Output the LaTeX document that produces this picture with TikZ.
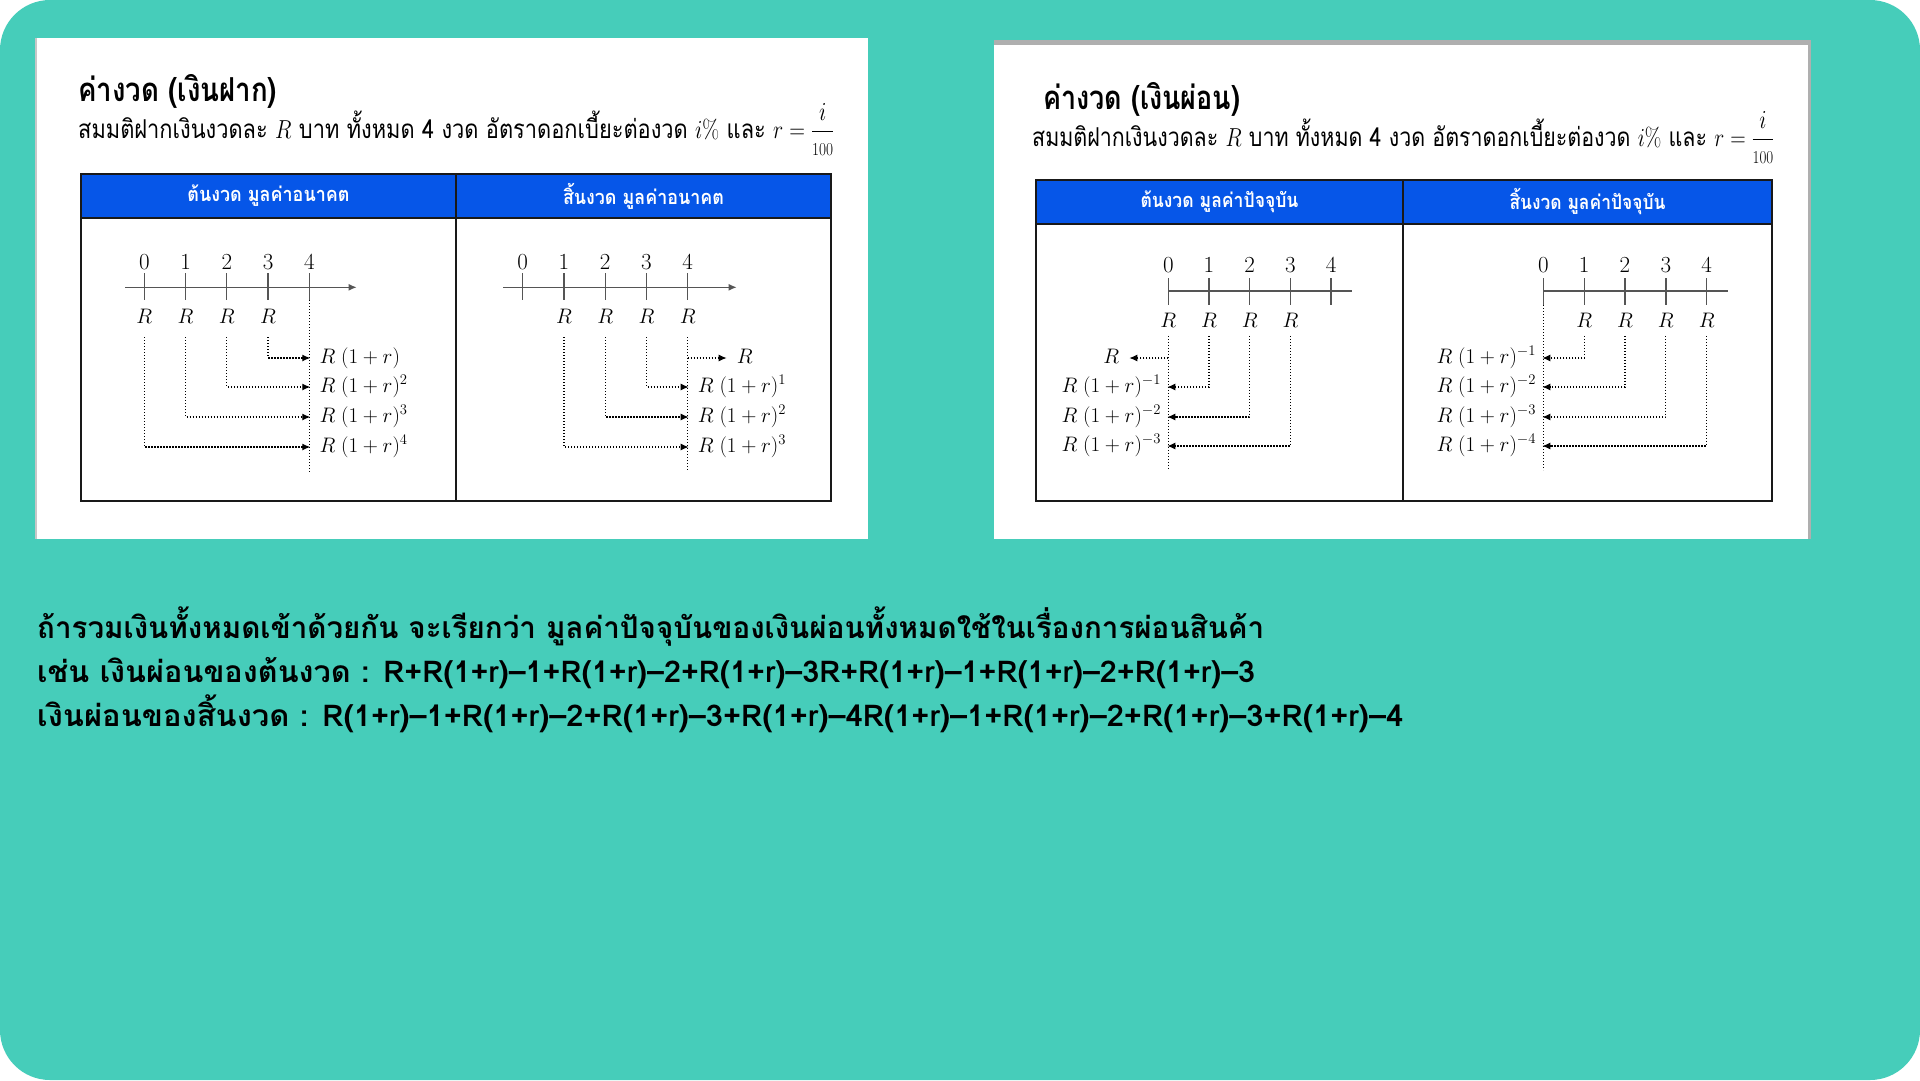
\RequirePackage{fix-cm}
\documentclass[tikz,border=0pt]{standalone}
\usepackage{amsmath}
\usepackage{graphicx}
\usepackage{fontspec}
\usetikzlibrary{arrows.meta}
\newfontfamily\thai[Script=Thai]{Loma}
% scale a box horizontally to a given width, height unchanged
\newcommand{\fitw}[2]{\resizebox{#1}{\height}{#2}}

\definecolor{bgteal}{RGB}{70,205,186}
\definecolor{hdrblue}{RGB}{6,86,232}
\definecolor{axisgray}{RGB}{85,85,85}
\definecolor{panelgray}{RGB}{175,175,175}

\tikzset{
  txt/.style={inner sep=0pt},
  hdr/.style={inner sep=0pt, text=white, font=\thai\bfseries\fontsize{20}{24}\selectfont},
  tbl/.style={draw=black!90, line width=2pt},
  axisline/.style={draw=axisgray, line width=1.3pt},
  tickline/.style={draw=axisgray, line width=1.3pt},
  tip/.style={-{Latex[length=8pt,width=7pt]}},
  dotline/.style={draw=black, line width=1.2pt, dash pattern=on 1.4pt off 1.6pt},
  dotarrow/.style={dotline, tip},
  num/.style={inner sep=0pt, font=\fontsize{23}{27}\selectfont},
  rlab/.style={inner xsep=1pt, inner ysep=13pt, text height=14.3pt, text depth=0pt,
               font=\fontsize{21}{25}\selectfont},
  res/.style={inner ysep=0pt, text height=15.75pt, text depth=5.25pt,
              font=\fontsize{21}{25}\selectfont},
  resL/.style={res, anchor=west, inner xsep=9pt},
  resR/.style={res, anchor=east, inner xsep=6pt},
}

\begin{document}
\begin{tikzpicture}[x=1pt,y=-1pt]
\useasboundingbox (0,0) rectangle (1920,1080);
\fill[white] (0,0) rectangle (1920,1080);
\fill[bgteal, rounded corners=50pt] (0,0) rectangle (1920,1080);

% ---------------- left card: deposits ----------------
\fill[panelgray!70] (35,38) rectangle (868,539);
\fill[white] (37,38) rectangle (868,539);

\node[txt, anchor=west] (titleL) at (78,91)
  {\fitw{199pt}{\thai\bfseries\fontsize{33}{38}\selectfont ค่างวด (เงินฝาก)}};
\node[txt, anchor=base west] (subL) at (78,138)
  {\fitw{756pt}{\thai\fontsize{26}{30}\selectfont สมมติฝากเงินงวดละ $R$ บาท ทั้งหมด 4 งวด อัตราดอกเบี้ยะต่องวด $i\%$ และ $r = \dfrac{i}{\scriptstyle 100}$}};

\fill[hdrblue] (81,174) rectangle (831,218);
\draw[tbl] (81,174) rectangle (831,501);
\draw[tbl] (81,218) -- (831,218);
\draw[tbl] (456,174) -- (456,501);
\node[hdr] (hA) at (268.5,196) {\fitw{162pt}{ต้นงวด มูลค่าอนาคต}};
\node[hdr] (hB) at (643.5,196) {\fitw{161pt}{สิ้นงวด มูลค่าอนาคต}};

% future value, payments at the start of each period
\draw[axisline, tip] (125,287.3) -- (356.7,287.3);
\foreach \k/\xx in {0/144.3,1/185.55,2/226.8,3/268.05,4/309.3}{
  \node[num] (aN\k) at (\xx,262) {$\k$};
  \draw[tickline] (\xx,273.3) -- (\xx,300);
}
\foreach \k/\xx in {0/144.3,1/185.55,2/226.8,3/268.05}{
  \node[rlab] (aR\k) at (\xx,316.7) {$R$};
}
\coordinate (aTop) at (309.3,300);
\coordinate (aBot) at (309.3,471.7);
\draw[dotline] (aTop) -- (aBot);
\node[resL] (aF1) at (310.3,358) {$R\;(1+r)$};
\node[resL] (aF2) at (310.3,387) {$R\;(1+r)^2$};
\node[resL] (aF3) at (310.3,417) {$R\;(1+r)^3$};
\node[resL] (aF4) at (310.3,447) {$R\;(1+r)^4$};
\draw[dotarrow] (aR3.south) |- (aF1.west);
\draw[dotarrow] (aR2.south) |- (aF2.west);
\draw[dotarrow] (aR1.south) |- (aF3.west);
\draw[dotarrow] (aR0.south) |- (aF4.west);

% future value, payments at the end of each period
\draw[axisline, tip] (503.3,287.3) -- (736.7,287.3);
\foreach \k/\xx in {0/522.7,1/563.95,2/605.2,3/646.45,4/687.7}{
  \node[num] (bN\k) at (\xx,262) {$\k$};
  \draw[tickline] (\xx,273.3) -- (\xx,300);
}
\foreach \k/\xx in {1/563.95,2/605.2,3/646.45,4/687.7}{
  \node[rlab] (bR\k) at (\xx,316.7) {$R$};
}
\coordinate (bBot) at (687.7,471.7);
\coordinate (bMid) at (687.7,358);
\draw[dotline] (bR4.south) -- (bBot);
\node[res, anchor=west, inner xsep=10pt] (bF0) at (726.7,358) {$R$};
\node[resL] (bF1) at (688.7,387) {$R\;(1+r)^1$};
\node[resL] (bF2) at (688.7,417) {$R\;(1+r)^2$};
\node[resL] (bF3) at (688.7,447) {$R\;(1+r)^3$};
\draw[dotarrow] (bMid) -- (bF0.west);
\draw[dotarrow] (bR3.south) |- (bF1.west);
\draw[dotarrow] (bR2.south) |- (bF2.west);
\draw[dotarrow] (bR1.south) |- (bF3.west);

% ---------------- right card: instalments ----------------
\fill[panelgray] (994,40) rectangle (1811,539);
\fill[white] (994,45) rectangle (1808,539);

\node[txt, anchor=west] (titleR) at (1043,99)
  {\fitw{197pt}{\thai\bfseries\fontsize{33}{38}\selectfont ค่างวด (เงินผ่อน)}};
\node[txt, anchor=base west] (subR) at (1032,146)
  {\fitw{742pt}{\thai\fontsize{26}{30}\selectfont สมมติฝากเงินงวดละ $R$ บาท ทั้งหมด 4 งวด อัตราดอกเบี้ยะต่องวด $i\%$ และ $r = \dfrac{i}{\scriptstyle 100}$}};

\fill[hdrblue] (1036,180) rectangle (1772,224);
\draw[tbl] (1036,180) rectangle (1772,501);
\draw[tbl] (1036,224) -- (1772,224);
\draw[tbl] (1403,180) -- (1403,501);
\node[hdr] (hC) at (1219.5,202) {\fitw{158pt}{ต้นงวด มูลค่าปัจจุบัน}};
\node[hdr] (hD) at (1587.5,202) {\fitw{156pt}{สิ้นงวด มูลค่าปัจจุบัน}};

% present value, payments at the start of each period
\draw[axisline] (1168.3,291) -- (1351.7,291);
\foreach \k/\xx in {0/1168.3,1/1209,2/1249.7,3/1290.4,4/1331.1}{
  \node[num] (cN\k) at (\xx,265) {$\k$};
  \draw[tickline] (\xx,278.3) -- (\xx,305);
}
\foreach \k/\xx in {0/1168.3,1/1209,2/1249.7,3/1290.4}{
  \node[rlab, inner ysep=8.5pt] (cR\k) at (\xx,320) {$R$};
}
\coordinate (cBot) at (1168.3,470);
\coordinate (cMid) at (1168.3,358);
\draw[dotline] (cR0.south) -- (cBot);
\node[res, anchor=east, inner xsep=10pt] (cP0) at (1129.3,358) {$R$};
\node[resR] (cP1) at (1167.3,387) {$R\;(1+r)^{-1}$};
\node[resR] (cP2) at (1167.3,417) {$R\;(1+r)^{-2}$};
\node[resR] (cP3) at (1167.3,446) {$R\;(1+r)^{-3}$};
\draw[dotarrow] (cMid) -- (cP0.east);
\draw[dotarrow] (cR1.south) |- (cP1.east);
\draw[dotarrow] (cR2.south) |- (cP2.east);
\draw[dotarrow] (cR3.south) |- (cP3.east);

% present value, payments at the end of each period
\draw[axisline] (1543.3,291) -- (1728.3,291);
\foreach \k/\xx in {0/1543.3,1/1584.15,2/1625,3/1665.85,4/1706.7}{
  \node[num] (dN\k) at (\xx,265) {$\k$};
  \draw[tickline] (\xx,278.3) -- (\xx,305);
}
\foreach \k/\xx in {1/1584.15,2/1625,3/1665.85,4/1706.7}{
  \node[rlab, inner ysep=8.5pt] (dR\k) at (\xx,320) {$R$};
}
\coordinate (dTop) at (1543.3,305);
\coordinate (dBot) at (1543.3,470);
\draw[dotline] (dTop) -- (dBot);
\node[resR] (dP1) at (1542.3,358) {$R\;(1+r)^{-1}$};
\node[resR] (dP2) at (1542.3,387) {$R\;(1+r)^{-2}$};
\node[resR] (dP3) at (1542.3,417) {$R\;(1+r)^{-3}$};
\node[resR] (dP4) at (1542.3,446) {$R\;(1+r)^{-4}$};
\draw[dotarrow] (dR1.south) |- (dP1.east);
\draw[dotarrow] (dR2.south) |- (dP2.east);
\draw[dotarrow] (dR3.south) |- (dP3.east);
\draw[dotarrow] (dR4.south) |- (dP4.east);

% ---------------- notes below the cards ----------------
\node[txt, anchor=base west] (note1) at (37,638)
  {\fitw{1227pt}{\thai\bfseries\fontsize{30}{34}\selectfont ถ้ารวมเงินทั้งหมดเข้าด้วยกัน จะเรียกว่า มูลค่าปัจจุบันของเงินผ่อนทั้งหมดใช้ในเรื่องการผ่อนสินค้า}};
\node[txt, anchor=base west] (note2) at (37,682)
  {\fitw{1218pt}{\thai\bfseries\fontsize{30}{34}\selectfont เช่น เงินผ่อนของต้นงวด : R+R(1+r)–1+R(1+r)–2+R(1+r)–3R+R(1+r)–1+R(1+r)–2+R(1+r)–3}};
\node[txt, anchor=base west] (note3) at (37,726)
  {\fitw{1366pt}{\thai\bfseries\fontsize{30}{34}\selectfont เงินผ่อนของสิ้นงวด : R(1+r)–1+R(1+r)–2+R(1+r)–3+R(1+r)–4R(1+r)–1+R(1+r)–2+R(1+r)–3+R(1+r)–4}};
\end{tikzpicture}
\end{document}
